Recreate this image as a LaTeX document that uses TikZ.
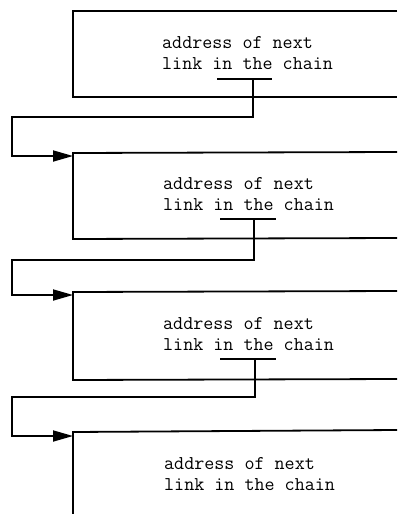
\documentclass[tikz,border=0pt]{standalone}
\usepackage{tikz}
\usetikzlibrary{arrows.meta}
\tikzset{ link_box/.style = {line width=1.8pt} }
\tikzset{ addr_text/.style = {anchor=west, inner sep=0pt, align=left, font=\fontsize{19.5}{21}\selectfont\ttfamily} }
\tikzset{ chain_arrow/.style = {line width=1.8pt, -{Triangle[length=20pt,width=11pt]}} }

\begin{document}
\begin{tikzpicture}[x=1pt,y=-1pt]
        \useasboundingbox (0,0) rectangle (397,514);
        % links, open on the right
        \draw[link_box] (397,11) -- (73,11) -- (73,97) -- (397,97);
        \draw[link_box] (397,152) -- (73,153) -- (73,239) -- (397,238);
        \draw[link_box] (397,291) -- (73,292) -- (73,380) -- (397,379);
        \draw[link_box] (397,430) -- (73,432) -- (73,514);
        \node[addr_text] (a1) at (162,53) {address of next\\link in the chain};
        \node[addr_text] (a2) at (163,194) {address of next\\link in the chain};
        \node[addr_text] (a3) at (163,334) {address of next\\link in the chain};
        \node[addr_text] (a4) at (164,474) {address of next\\link in the chain};
        % pointer fields
        \draw[link_box] (217,79) -- (272,79);
        \draw[link_box] (220,219) -- (276,219);
        \draw[link_box] (220,359) -- (276,359);
        \coordinate (p1) at (253,79);
        \coordinate (p2) at (254,219);
        \coordinate (p3) at (255,359);
        \coordinate (t1) at (12,117);
        \coordinate (t2) at (12,260);
        \coordinate (t3) at (12,397);
        \coordinate (in2) at (73,156);
        \coordinate (in3) at (73,295);
        \coordinate (in4) at (73,436);
        \draw[chain_arrow] (p1) |- (t1) |- (in2);
        \draw[chain_arrow] (p2) |- (t2) |- (in3);
        \draw[chain_arrow] (p3) |- (t3) |- (in4);
    \end{tikzpicture}
\end{document}
